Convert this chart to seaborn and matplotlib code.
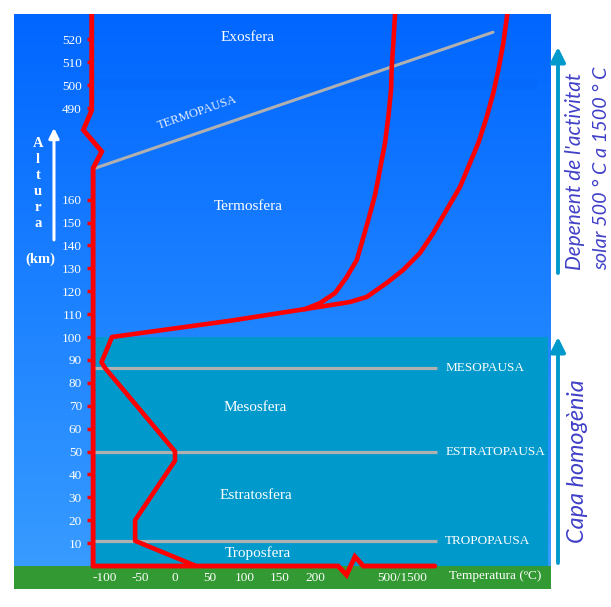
import numpy as np
import pandas as pd
import matplotlib
matplotlib.use("Agg")
import matplotlib.pyplot as plt
import seaborn as sns
from matplotlib.patches import Rectangle

# ---------------- data (diagram scale: temperature °C, altitude km, broken above 160 km) ----
low_temp = [30, -57, -57, 0, 0, -100, -105, -90, 79, 186]
low_alt = [0, 11, 20, 46, 50, 86.5, 89, 100, 107.1, 112.2]
hot1_temp = [186, 207, 228.6, 245.3, 259.6, 266.7, 276.1, 285.7, 290, 295.3, 300, 304.7,
             308.6, 309.6, 311.9, 314.3]
hot1_alt = [112.2, 114.8, 119.2, 126.2, 133.6, 141, 151.1, 162, 168.6, 177.3, 184.7, 196.1,
            207.9, 217.9, 228.4, 241]
hot2_temp = [186, 207, 250, 274, 302.4, 326, 350, 369, 388, 407, 421.4, 433.3, 445.3, 454.7,
             461.9, 469, 474.7]
hot2_alt = [112.2, 113.2, 115.3, 117.5, 123.6, 129.3, 136.7, 145.4, 155.5, 165.5, 176, 184.7,
            196.1, 206.6, 216.6, 228.4, 241]

alt_ticks = [10, 20, 30, 40, 50, 60, 70, 80, 90, 100, 110, 120, 130, 140, 150, 160,
             200, 210, 220, 230]
alt_labels = ['10', '20', '30', '40', '50', '60', '70', '80', '90', '100', '110', '120',
              '130', '140', '150', '160', '490', '500', '510', '520']
temp_ticks = [-100, -50, 0, 50, 100, 150, 200, 324]
temp_labels = ['-100', '-50', '0', '50', '100', '150', '200', '500/1500']

pause_names = ['TROPOPAUSA', 'ESTRATOPAUSA', 'MESOPAUSA']
pause_alt = [11, 49.6, 86.3]
layer_names = ['Troposfera', 'Estratosfera', 'Mesosfera', 'Termosfera', 'Exosfera']
layer_temp = [118.6, 115.7, 114.3, 104.3, 104.3]
layer_alt = [5.7, 30.6, 69, 156.8, 231]

axis_temp = [-117, -117, -104.7, -131, -119, -119]
axis_alt = [0, 173.7, 181, 190.4, 199, 241]
base_temp = [-117, 233, 245, 257, 269, 371]
base_alt = [0, 0, -3.9, 4.1, 0, 0]
termopausa_temp = [-114.3, 454.3]
termopausa_alt = [173.7, 233.1]

# ---------------- style ----------------
sns.set_theme(style="white")
plt.rcParams['font.family'] = ['Liberation Serif', 'DejaVu Serif']
plt.rcParams['axes.axisbelow'] = False

W, H = 611, 607
fig = plt.figure(figsize=(W / 100, H / 100), dpi=100)
fig.patch.set_facecolor("white")
ax = fig.add_axes([14 / W, (H - 589) / H, 537 / W, 575 / H])
ax.set_axisbelow(False)
XMIN, XMAX, YMIN, YMAX = -230, 537.1, -10.04, 241.05
ax.set_xlim(XMIN, XMAX)
ax.set_ylim(YMIN, YMAX)

# sky gradient
top = np.array([0, 102, 255]) / 255
bot = np.array([55, 155, 255]) / 255
t = np.linspace(0, 1, 256)[:, None]
grad = (top * (1 - t) + bot * t)[:, None, :]
ax.imshow(grad, extent=[XMIN, XMAX, 0, YMAX], aspect='auto', origin='upper', zorder=0)
# subtle band near 500 km
ax.add_patch(Rectangle((-117, 207.9), 517 + 117, 5.2, color='#0060f0', alpha=0.15, lw=0, zorder=0.5))
# homogeneous layer + ground
ax.add_patch(Rectangle((-117, 0), 533 + 117, 100, color='#0099cc', lw=0, zorder=1))
ax.add_patch(Rectangle((XMIN, YMIN), XMAX - XMIN, -YMIN, color='#339933', lw=0, zorder=1))

# pause lines
for a, name in zip(pause_alt, pause_names):
    ax.plot([-117, 374], [a, a], color='#b0b0b0', lw=2.3, zorder=2, solid_capstyle='butt')
    ax.text(386, a, name, color='white', fontsize=9.5, ha='left', va='center', zorder=5)
ax.plot(termopausa_temp, termopausa_alt, color='#b0b0b0', lw=2.2, zorder=2)
ax.text(31, 198, 'TERMOPAUSA', color='#e8eeff', fontsize=9, rotation=19,
        ha='center', va='center', rotation_mode='anchor', zorder=5)

for x, y, name in zip(layer_temp, layer_alt, layer_names):
    ax.text(x, y, name, color='white', fontsize=11, ha='center', va='center', zorder=5)

# temperature profiles
kw = dict(color='#ff0000', lw=3.3, sort=False, estimator=None, legend=False, zorder=4)
sns.lineplot(x=low_temp, y=low_alt, ax=ax, **kw)
sns.lineplot(x=hot1_temp, y=hot1_alt, ax=ax, **kw)
sns.lineplot(x=hot2_temp, y=hot2_alt, ax=ax, **kw)
for line in ax.lines[-3:]:
    line.set_solid_joinstyle('round')
    line.set_solid_capstyle('round')

# axes drawn as red lines
ax.plot(axis_temp, axis_alt, color='#ff0000', lw=3.5, zorder=4, solid_joinstyle='miter')
ax.plot(base_temp, base_alt, color='#ff0000', lw=3.5, zorder=4, solid_joinstyle='miter')

# ticks
for s in ax.spines.values():
    s.set_visible(False)
ax.spines['left'].set_position(('data', -117))
ax.spines['bottom'].set_position(('data', 0))
ax.set_yticks(alt_ticks)
ax.set_yticklabels(alt_labels)
ax.set_xticks(temp_ticks)
ax.set_xticklabels(temp_labels)
ax.tick_params(axis='y', left=True, length=4, width=2.5, color='#ff0000', labelcolor='white',
               labelsize=9.5, pad=4, direction='out')
ax.tick_params(axis='x', bottom=True, length=0, labelcolor='white', labelsize=9.5, pad=4)
ax.grid(False)
ax.text(457, -4.4, 'Temperatura (ºC)', color='white', fontsize=9.5, ha='center', va='center', zorder=5)

# Altura label
for i, ch in enumerate('Altura'):
    ax.text(-195.7, 184.5 - 7 * i, ch, color='white', fontsize=10.5, fontweight='bold',
            ha='center', va='center')
ax.text(-192.9, 134.1, '(km)', color='white', fontsize=10.5, fontweight='bold', ha='center', va='center')
ax.annotate('', xy=(-172.9, 191.3), xytext=(-172.9, 142.4),
            arrowprops=dict(arrowstyle='-|>', color='white', lw=2.2, mutation_scale=15,
                            shrinkA=0, shrinkB=0))

# right side annotations
ax.annotate('', xy=(558, H - 337), xytext=(558, H - 563), xycoords='figure pixels',
            textcoords='figure pixels',
            arrowprops=dict(arrowstyle='-|>', color='#0099cc', lw=2.8, mutation_scale=22,
                            shrinkA=0, shrinkB=0))
ax.annotate('', xy=(558, H - 47), xytext=(558, H - 273), xycoords='figure pixels',
            textcoords='figure pixels',
            arrowprops=dict(arrowstyle='-|>', color='#0099cc', lw=2.8, mutation_scale=22,
                            shrinkA=0, shrinkB=0))
side_kw = dict(color='#4040c8', style='italic', family=['Lato', 'DejaVu Sans'], rotation=90,
               ha='center')
fig.text(577 / W, 1 - 461 / H, 'Capa homogènia', fontsize=16.8, va='center', **side_kw)
fig.text(575 / W, 1 - 270 / H, "Depenent de l'activitat", fontsize=15, va='bottom', **side_kw)
fig.text(601.5 / W, 1 - 270 / H, 'solar 500 ° C a 1500 ° C', fontsize=14.2, va='bottom', **side_kw)

fig.savefig('out.png', dpi=100, facecolor='white')
